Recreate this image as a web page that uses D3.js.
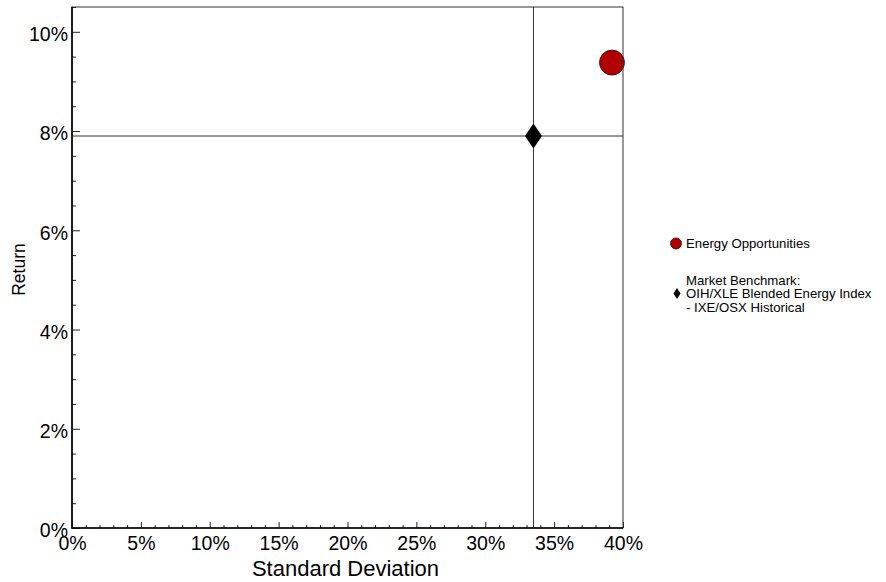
<!DOCTYPE html>
<html>
<head>
<meta charset="utf-8">
<script src="https://cdn.jsdelivr.net/npm/d3@7"></script>
<style>
  html, body { margin: 0; padding: 0; background: #fff; }
  svg { display: block; font-family: "Liberation Sans", Arial, Helvetica, sans-serif; }
</style>
</head>
<body>
<svg id="chart" width="886" height="582"></svg>
<script>
// ---- data ----
const seriesNames = ["Energy Opportunities", "Market Benchmark:\nOIH/XLE Blended Energy Index\n- IXE/OSX Historical"];
const stdDev = [39.2, 33.5];        // % standard deviation
const returns = [9.38, 7.9];        // % return
const xMajorTicks = [0, 5, 10, 15, 20, 25, 30, 35, 40];
const yMajorTicks = [0, 2, 4, 6, 8, 10];

// ---- layout ----
const svg = d3.select("#chart");
const pLeft = 72, pRight = 623, pTop = 7, pBottom = 528;
const x = d3.scaleLinear().domain([0, 40]).range([pLeft, pRight]);
const y = d3.scaleLinear().domain([0, 10.5]).range([pBottom, pTop]);

const fmt = d => d + "%";

// minor ticks
const xMinor = d3.range(0, 41, 1).filter(v => v % 5 !== 0);
const yMinor = d3.range(0, 10.51, 0.5).filter(v => v % 2 !== 0);

const gx = svg.append("g").attr("transform", `translate(0,${pBottom})`);
gx.call(d3.axisBottom(x).tickValues(xMinor).tickSize(-3).tickFormat(""));
gx.select(".domain").remove();
const gx2 = svg.append("g").attr("transform", `translate(0,${pBottom})`);
gx2.call(d3.axisBottom(x).tickValues(xMajorTicks).tickSize(-6).tickPadding(8).tickFormat(fmt));
gx2.select(".domain").remove();
gx2.selectAll("text").attr("font-size", 19.5).attr("fill", "#000").attr("font-family", "Liberation Sans, Arial, sans-serif");

const gy = svg.append("g").attr("transform", `translate(${pLeft},0)`);
gy.call(d3.axisLeft(y).tickValues(yMinor).tickSize(-4).tickFormat(""));
gy.select(".domain").remove();
const gy2 = svg.append("g").attr("transform", `translate(${pLeft},0)`);
gy2.call(d3.axisLeft(y).tickValues(yMajorTicks).tickSize(-8).tickPadding(4).tickFormat(fmt));
gy2.select(".domain").remove();
gy2.selectAll("text").attr("font-size", 19.5).attr("dy", "0.45em").attr("fill", "#000").attr("font-family", "Liberation Sans, Arial, sans-serif");

svg.selectAll(".tick line").attr("stroke", "#222");

// benchmark reference lines
svg.append("line")
  .attr("x1", x(stdDev[1])).attr("x2", x(stdDev[1]))
  .attr("y1", y(0)).attr("y2", y(10.5))
  .attr("stroke", "#333").attr("stroke-width", 1);
svg.append("line")
  .attr("x1", x(0)).attr("x2", x(40))
  .attr("y1", y(returns[1])).attr("y2", y(returns[1]))
  .attr("stroke", "#333").attr("stroke-width", 1);

// markers
svg.append("circle")
  .attr("cx", x(stdDev[0])).attr("cy", y(returns[0])).attr("r", 12.5)
  .attr("fill", "#b00000").attr("stroke", "#3a0000").attr("stroke-width", 0.8);

const diamond = (cx, cy, w, h) => `M${cx},${cy - h / 2}L${cx + w / 2},${cy}L${cx},${cy + h / 2}L${cx - w / 2},${cy}Z`;
svg.append("path")
  .attr("d", diamond(x(stdDev[1]), y(returns[1]), 17, 25))
  .attr("fill", "#000");

// plot frame
svg.append("rect")
  .attr("x", pLeft).attr("y", pTop).attr("width", pRight - pLeft).attr("height", pBottom - pTop)
  .attr("fill", "none").attr("stroke", "#333").attr("stroke-width", 1);
svg.append("line").attr("x1", pLeft).attr("x2", pLeft).attr("y1", pTop).attr("y2", pBottom + 0.5)
  .attr("stroke", "#000").attr("stroke-width", 1.6);
svg.append("line").attr("x1", pLeft - 0.5).attr("x2", pRight).attr("y1", pBottom).attr("y2", pBottom)
  .attr("stroke", "#000").attr("stroke-width", 1.6);

// axis titles
svg.append("text").attr("x", (pLeft + pRight) / 2 - 2).attr("y", 576)
  .attr("text-anchor", "middle").attr("font-size", 22).text("Standard Deviation");
svg.append("text").attr("transform", `translate(25,${(pTop + pBottom) / 2 + 2}) rotate(-90)`)
  .attr("text-anchor", "middle").attr("font-size", 17.5).text("Return");

// legend
const lg = svg.append("g");
lg.append("circle").attr("cx", 676).attr("cy", 243.5).attr("r", 5.5)
  .attr("fill", "#b00000").attr("stroke", "#3a0000").attr("stroke-width", 0.8);
lg.append("text").attr("x", 686).attr("y", 248).attr("font-size", 13.2).text(seriesNames[0]);
lg.append("path").attr("d", diamond(677, 293.5, 7, 11)).attr("fill", "#000");
const lines = seriesNames[1].split("\n");
lg.append("text").attr("x", 686).attr("y", 285).attr("font-size", 13.2)
  .selectAll("tspan").data(lines).join("tspan")
  .attr("x", 686).attr("dy", (d, i) => i === 0 ? 0 : 13.3).text(d => d);
</script>
</body>
</html>
